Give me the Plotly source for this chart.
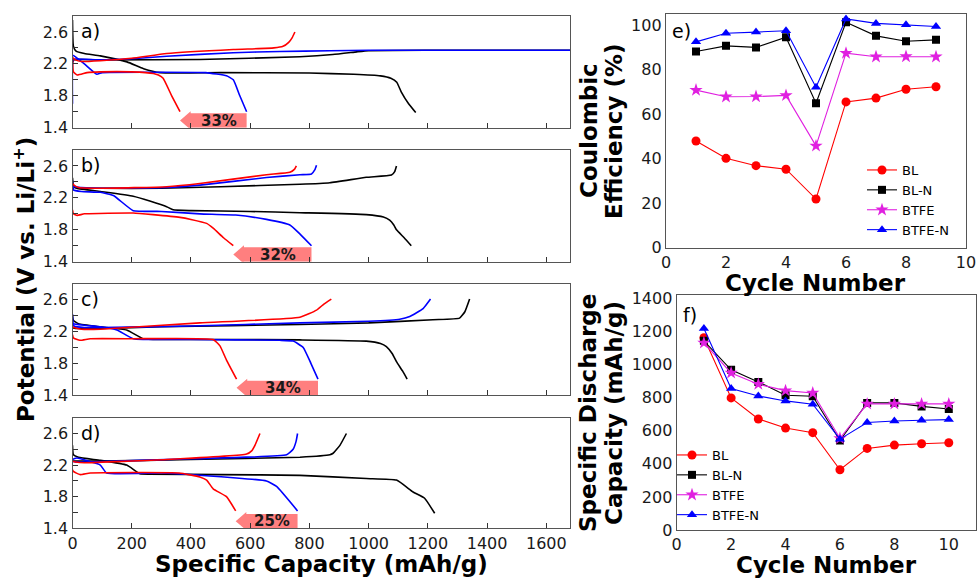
import plotly.graph_objects as go

FONT = "DejaVu Sans"

# ---------------- data ----------------
PANEL_LABELS = ["a)", "b)", "c)", "d)"]
LOSS_LABELS = ["33%", "32%", "34%", "25%"]
CAP_TICKS = [0, 200, 400, 600, 800, 1000, 1200, 1400, 1600]
V_TICKS = [1.4, 1.6, 1.8, 2.0, 2.2, 2.4, 2.6]
V_TICK_TEXT = ["1.4", "", "1.8", "", "2.2", "", "2.6"]

# panel a
A_BLACK_DIS_CAP = [0, 3, 12, 40, 94, 184, 240, 296, 500, 800, 950, 1040, 1075, 1095, 1110, 1135, 1159]
A_BLACK_DIS_V = [2.75, 2.42, 2.36, 2.33, 2.30, 2.225, 2.14, 2.09, 2.09, 2.085, 2.07, 2.05, 2.02, 1.97, 1.85, 1.70, 1.59]
A_BLACK_CHG_CAP = [0, 5, 94, 430, 768, 879, 960, 1000, 1200, 1680]
A_BLACK_CHG_V = [2.22, 2.25, 2.25, 2.255, 2.29, 2.317, 2.35, 2.365, 2.37, 2.37]
A_BLUE_DIS_CAP = [0, 5, 40, 82, 100, 300, 450, 520, 543, 565, 588]
A_BLUE_DIS_V = [2.31, 2.30, 2.20, 2.07, 2.09, 2.095, 2.09, 2.05, 2.0, 1.80, 1.60]
A_BLUE_CHG_CAP = [0, 2, 10, 100, 200, 318, 543, 700, 869, 1000, 1680]
A_BLUE_CHG_V = [1.70, 2.25, 2.26, 2.25, 2.265, 2.296, 2.34, 2.355, 2.365, 2.37, 2.37]
A_RED_DIS_CAP = [0, 3, 16, 49, 94, 200, 273, 290, 306, 335, 363]
A_RED_DIS_V = [2.28, 2.10, 2.06, 2.09, 2.10, 2.10, 2.08, 2.06, 2.02, 1.80, 1.60]
A_RED_CHG_CAP = [0, 10, 30, 94, 200, 318, 543, 680, 711, 730, 742, 751]
A_RED_CHG_V = [2.28, 2.25, 2.23, 2.24, 2.27, 2.33, 2.38, 2.40, 2.42, 2.47, 2.53, 2.60]

# panel b
B_BLACK_DIS_CAP = [0, 3, 15, 94, 205, 261, 318, 340, 400, 600, 768, 992, 1050, 1071, 1085, 1094, 1120, 1144]
B_BLACK_DIS_V = [2.45, 2.36, 2.32, 2.28, 2.22, 2.16, 2.09, 2.05, 2.04, 2.03, 2.014, 1.99, 1.96, 1.92, 1.86, 1.80, 1.70, 1.60]
B_BLACK_CHG_CAP = [0, 5, 20, 94, 300, 500, 768, 869, 992, 1077, 1088, 1094]
B_BLACK_CHG_V = [2.30, 2.33, 2.32, 2.32, 2.32, 2.34, 2.37, 2.39, 2.458, 2.487, 2.53, 2.60]
B_BLUE_DIS_CAP = [0, 3, 30, 94, 138, 205, 300, 430, 551, 655, 734, 770, 807]
B_BLUE_DIS_V = [2.42, 2.30, 2.28, 2.27, 2.23, 2.04, 2.03, 2.0, 1.985, 1.93, 1.86, 1.74, 1.60]
B_BLUE_CHG_CAP = [0, 5, 30, 100, 318, 430, 655, 768, 807, 818, 824]
B_BLUE_CHG_V = [2.32, 2.34, 2.33, 2.32, 2.33, 2.36, 2.455, 2.49, 2.50, 2.55, 2.61]
B_RED_DIS_CAP = [0, 3, 16, 40, 205, 272, 363, 400, 453, 475, 510, 543]
B_RED_DIS_V = [2.05, 2.0, 1.98, 2.0, 2.01, 1.99, 1.956, 1.93, 1.88, 1.82, 1.70, 1.60]
B_RED_CHG_CAP = [0, 5, 20, 100, 318, 430, 655, 734, 750, 756]
B_RED_CHG_V = [2.38, 2.36, 2.33, 2.32, 2.34, 2.38, 2.49, 2.52, 2.56, 2.60]

# panel c
C_BLACK_DIS_CAP = [0, 3, 20, 94, 183, 239, 300, 500, 768, 992, 1040, 1060, 1080, 1094, 1115, 1130]
C_BLACK_DIS_V = [2.40, 2.34, 2.30, 2.26, 2.22, 2.11, 2.10, 2.10, 2.095, 2.08, 2.05, 2.01, 1.92, 1.82, 1.70, 1.60]
C_BLACK_CHG_CAP = [0, 10, 94, 300, 768, 1000, 1217, 1307, 1325, 1341]
C_BLACK_CHG_V = [2.25, 2.24, 2.24, 2.26, 2.29, 2.31, 2.35, 2.37, 2.45, 2.61]
C_BLUE_DIS_CAP = [0, 3, 40, 94, 150, 205, 400, 700, 745, 779, 805, 829]
C_BLUE_DIS_V = [2.42, 2.30, 2.28, 2.26, 2.22, 2.11, 2.10, 2.09, 2.08, 2.0, 1.80, 1.60]
C_BLUE_CHG_CAP = [0, 5, 40, 94, 400, 768, 1000, 1105, 1139, 1184, 1209]
C_BLUE_CHG_V = [2.30, 2.27, 2.25, 2.25, 2.27, 2.31, 2.33, 2.355, 2.39, 2.49, 2.61]
C_RED_DIS_CAP = [0, 3, 25, 60, 200, 475, 498, 520, 554]
C_RED_DIS_V = [2.16, 2.12, 2.09, 2.11, 2.11, 2.10, 2.02, 1.84, 1.60]
C_RED_CHG_CAP = [0, 5, 30, 94, 430, 768, 824, 850, 874]
C_RED_CHG_V = [2.26, 2.25, 2.23, 2.23, 2.31, 2.38, 2.47, 2.55, 2.61]

# panel d
D_BLACK_DIS_CAP = [0, 3, 20, 94, 183, 228, 260, 500, 768, 992, 1094, 1150, 1189, 1223]
D_BLACK_DIS_V = [2.45, 2.33, 2.30, 2.26, 2.20, 2.09, 2.085, 2.08, 2.07, 2.03, 2.01, 1.86, 1.78, 1.59]
D_BLACK_CHG_CAP = [0, 10, 94, 400, 768, 869, 880, 903, 925]
D_BLACK_CHG_V = [2.25, 2.25, 2.25, 2.27, 2.30, 2.33, 2.35, 2.45, 2.60]
D_BLUE_DIS_CAP = [0, 5, 15, 94, 115, 300, 543, 655, 689, 760]
D_BLUE_DIS_V = [2.27, 2.28, 2.29, 2.20, 2.10, 2.10, 2.04, 2.0, 1.93, 1.62]
D_BLUE_CHG_CAP = [0, 10, 50, 400, 723, 745, 755, 760]
D_BLUE_CHG_V = [2.25, 2.24, 2.24, 2.28, 2.33, 2.40, 2.50, 2.60]
D_RED_DIS_CAP = [0, 3, 25, 60, 360, 430, 453, 475, 520, 551]
D_RED_DIS_V = [2.14, 2.12, 2.08, 2.10, 2.10, 2.05, 2.01, 1.90, 1.80, 1.62]
D_RED_CHG_CAP = [0, 10, 40, 318, 588, 605, 616, 633]
D_RED_CHG_V = [2.25, 2.24, 2.23, 2.27, 2.34, 2.38, 2.45, 2.60]

# cycling data
SERIES_NAMES = ["BL", "BL-N", "BTFE", "BTFE-N"]
CE_CYCLES = [1, 2, 3, 4, 5, 6, 7, 8, 9]
CE_BL = [48.0, 40.2, 36.9, 35.3, 21.9, 65.6, 67.3, 71.3, 72.4]
CE_BLN = [88.3, 90.8, 90.1, 94.7, 65.0, 101.4, 95.3, 92.9, 93.5]
CE_BTFE = [70.9, 67.9, 68.0, 68.5, 45.8, 87.5, 85.9, 86.0, 85.9]
CE_BTFEN = [92.6, 96.5, 97.0, 97.6, 72.2, 102.9, 100.9, 100.3, 99.5]
DC_CYCLES = [1, 2, 3, 4, 5, 6, 7, 8, 9, 10]
DC_BL = [1162, 798, 671, 616, 588, 364, 493, 513, 521, 527]
DC_BLN = [1143, 968, 895, 814, 808, 541, 768, 768, 747, 731]
DC_BTFE = [1131, 949, 881, 842, 828, 554, 762, 762, 762, 762]
DC_BTFEN = [1218, 855, 810, 780, 760, 549, 650, 659, 663, 667]

# ---------------- layout helpers ----------------
W, H = 978, 578


def dx(p0, p1):
    return [p0 / W, p1 / W]


def dy(top, bottom):
    return [1 - bottom / H, 1 - top / H]


def px(p):
    return p / W


def py(p):
    return 1 - p / H


LEFT_X = dx(72.5, 570)
LEFT_Y = [dy(16, 127.7), dy(150, 261.7), dy(284, 395), dy(417.7, 528.3)]
E_X, E_Y = dx(666, 966), dy(14.3, 247.7)
F_X, F_Y = dx(676.7, 976), dy(295, 530)

panels = [
    {"black": (A_BLACK_DIS_CAP, A_BLACK_DIS_V, A_BLACK_CHG_CAP, A_BLACK_CHG_V),
     "blue": (A_BLUE_DIS_CAP, A_BLUE_DIS_V, A_BLUE_CHG_CAP, A_BLUE_CHG_V),
     "red": (A_RED_DIS_CAP, A_RED_DIS_V, A_RED_CHG_CAP, A_RED_CHG_V)},
    {"black": (B_BLACK_DIS_CAP, B_BLACK_DIS_V, B_BLACK_CHG_CAP, B_BLACK_CHG_V),
     "blue": (B_BLUE_DIS_CAP, B_BLUE_DIS_V, B_BLUE_CHG_CAP, B_BLUE_CHG_V),
     "red": (B_RED_DIS_CAP, B_RED_DIS_V, B_RED_CHG_CAP, B_RED_CHG_V)},
    {"black": (C_BLACK_DIS_CAP, C_BLACK_DIS_V, C_BLACK_CHG_CAP, C_BLACK_CHG_V),
     "blue": (C_BLUE_DIS_CAP, C_BLUE_DIS_V, C_BLUE_CHG_CAP, C_BLUE_CHG_V),
     "red": (C_RED_DIS_CAP, C_RED_DIS_V, C_RED_CHG_CAP, C_RED_CHG_V)},
    {"black": (D_BLACK_DIS_CAP, D_BLACK_DIS_V, D_BLACK_CHG_CAP, D_BLACK_CHG_V),
     "blue": (D_BLUE_DIS_CAP, D_BLUE_DIS_V, D_BLUE_CHG_CAP, D_BLUE_CHG_V),
     "red": (D_RED_DIS_CAP, D_RED_DIS_V, D_RED_CHG_CAP, D_RED_CHG_V)},
]
COLORS = {"black": "#000000", "blue": "#0000ff", "red": "#ff0000"}

fig = go.Figure()

axis_line = dict(showline=True, linecolor="#555555", linewidth=1.3, mirror=True,
                 showgrid=False, zeroline=False, automargin=False)
tick_font = dict(size=16, color="#1a1a1a", family=FONT)

shapes = []
annotations = []

for i, panel in enumerate(panels):
    n = "" if i == 0 else str(i + 1)
    xa, ya = "x" + n, "y" + n
    for cname in ["black", "blue", "red"]:
        dcap, dv, ccap, cv = panel[cname]
        for cap, v in ((ccap, cv), (dcap, dv)):
            fig.add_trace(go.Scatter(
                x=cap, y=v, mode="lines", xaxis=xa, yaxis=ya,
                line=dict(color=COLORS[cname], width=1.6, shape="spline", smoothing=0.4),
                showlegend=False, hoverinfo="skip"))
    fig.update_layout(**{
        "xaxis" + n: dict(domain=LEFT_X, anchor=ya, range=[0, 1680], tickvals=CAP_TICKS,
                          showticklabels=(i == 3), ticks="inside", ticklen=5, tickwidth=1.2,
                          tickcolor="#333333", tickfont=tick_font, **axis_line),
        "yaxis" + n: dict(domain=LEFT_Y[i], anchor=xa, range=[1.4, 2.8], tickvals=V_TICKS,
                          ticktext=V_TICK_TEXT, ticks="inside", ticklen=5, tickwidth=1.2,
                          tickcolor="#333333", tickfont=tick_font, **axis_line),
    })
    # capacity loss arrow: from the blue discharge end back to the red discharge end
    tail = panel["blue"][0][-1]
    tip = panel["red"][0][-1]
    base = tip + 36
    yc, bh, hh = 1.49, 0.09, 0.115
    path = (f"M {tail},{yc - bh} L {base},{yc - bh} L {base},{yc - hh} L {tip},{yc} "
            f"L {base},{yc + hh} L {base},{yc + bh} L {tail},{yc + bh} Z")
    shapes.append(dict(type="path", path=path, xref=xa, yref=ya, fillcolor="#ff7f7f",
                       line=dict(width=0), layer="below"))
    annotations.append(dict(x=(base + tail) / 2, y=yc, xref=xa, yref=ya, text=LOSS_LABELS[i],
                            showarrow=False, font=dict(size=15, family=FONT, color="#1a1a1a",
                                                       weight="bold")))
    top_px = [16, 150, 284, 417.7][i]
    annotations.append(dict(x=px(79), y=py(top_px + 15), xref="paper", yref="paper",
                            text=PANEL_LABELS[i], showarrow=False, xanchor="left",
                            yanchor="middle", font=dict(size=19, family=FONT, color="#000")))

# cycling panels
series_style = [
    ("#ff0000", "circle", 9),
    ("#000000", "square", 8),
    ("#e020e0", "star", 10),
    ("#0000ff", "triangle-up", 9),
]
for k, (vals, name) in enumerate(zip([CE_BL, CE_BLN, CE_BTFE, CE_BTFEN], SERIES_NAMES)):
    col, sym, sz = series_style[k]
    fig.add_trace(go.Scatter(x=CE_CYCLES, y=vals, mode="lines+markers", name=name,
                             xaxis="x5", yaxis="y5", legend="legend",
                             line=dict(color=col, width=1.1),
                             marker=dict(color=col, symbol=sym, size=sz, line=dict(width=0))))
for k, (vals, name) in enumerate(zip([DC_BL, DC_BLN, DC_BTFE, DC_BTFEN], SERIES_NAMES)):
    col, sym, sz = series_style[k]
    fig.add_trace(go.Scatter(x=DC_CYCLES, y=vals, mode="lines+markers", name=name,
                             xaxis="x6", yaxis="y6", legend="legend2",
                             line=dict(color=col, width=1.1),
                             marker=dict(color=col, symbol=sym, size=sz, line=dict(width=0))))

fig.update_layout(
    xaxis5=dict(domain=E_X, anchor="y5", range=[0, 10], tickvals=[0, 2, 4, 6, 8, 10],
                ticks="", tickfont=tick_font, **axis_line),
    yaxis5=dict(domain=E_Y, anchor="x5", range=[0, 105], tickvals=[0, 20, 40, 60, 80, 100],
                ticks="", tickfont=tick_font, **axis_line),
    xaxis6=dict(domain=F_X, anchor="y6", range=[0, 11], tickvals=[0, 2, 4, 6, 8, 10],
                ticks="", tickfont=tick_font, **axis_line),
    yaxis6=dict(domain=F_Y, anchor="x6", range=[0, 1420],
                tickvals=[0, 200, 400, 600, 800, 1000, 1200, 1400],
                ticks="", tickfont=tick_font, **axis_line),
)

annotations.append(dict(x=px(670), y=py(31), xref="paper", yref="paper", text="e)",
                        showarrow=False, xanchor="left", yanchor="middle",
                        font=dict(size=19, family=FONT, color="#000")))
annotations.append(dict(x=px(681), y=py(315), xref="paper", yref="paper", text="f)",
                        showarrow=False, xanchor="left", yanchor="middle",
                        font=dict(size=19, family=FONT, color="#000")))

title_font = dict(size=23, family=FONT, color="#000", weight="bold")
titles = [
    ("Potential (V vs. Li/Li<sup>+</sup>)", 24, 280, -90),
    ("Specific Capacity (mAh/g)", 321, 564, 0),
    ("Cycle Number", 815, 283, 0),
    ("Cycle Number", 826, 565, 0),
    ("Coulombic", 589, 131, -90),
    ("Efficiency (%)", 614, 131, -90),
    ("Specific Discharge", 588, 413, -90),
    ("Capacity (mAh/g)", 614, 413, -90),
]
for text, x0, y0, ang in titles:
    annotations.append(dict(x=px(x0), y=py(y0), xref="paper", yref="paper", text=text,
                            showarrow=False, textangle=ang, xanchor="center", yanchor="middle",
                            font=title_font))

fig.update_layout(
    width=W, height=H, margin=dict(l=0, r=0, t=0, b=0, pad=0, autoexpand=False),
    paper_bgcolor="white", plot_bgcolor="white",
    font=dict(family=FONT, color="#000"),
    shapes=shapes, annotations=annotations,
    legend=dict(x=px(862), y=py(155), xanchor="left", yanchor="top",
                bgcolor="rgba(0,0,0,0)", font=dict(size=13, family=FONT, color="#000"),
                tracegroupgap=0),
    legend2=dict(x=px(672), y=py(440), xanchor="left", yanchor="top",
                 bgcolor="rgba(0,0,0,0)", font=dict(size=13, family=FONT, color="#000"),
                 tracegroupgap=0),
)

fig.write_html("out.html", config={"displayModeBar": False},
               post_script="document.body.style.margin='0px';"
                           "document.body.style.overflow='hidden';")
